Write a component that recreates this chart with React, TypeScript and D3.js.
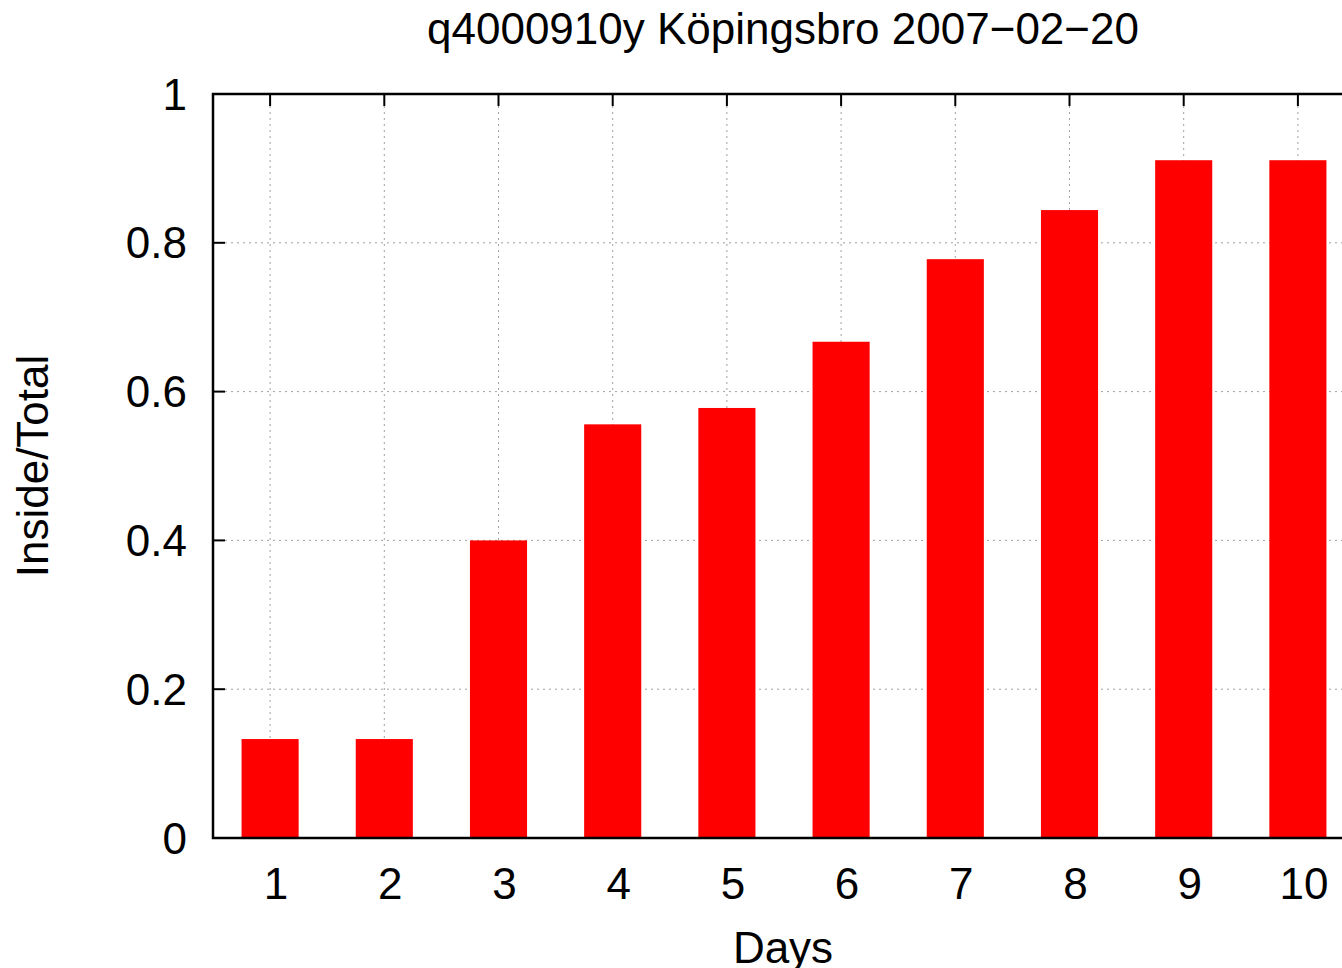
import React from "react";
import * as d3 from "d3";

const days = [1, 2, 3, 4, 5, 6, 7, 8, 9, 10];
const ratios = [0.133, 0.133, 0.4, 0.556, 0.578, 0.667, 0.778, 0.844, 0.911, 0.911];
const yTicks = [0, 0.2, 0.4, 0.6, 0.8, 1];
const title = "q4000910y Köpingsbro 2007\u221202\u221220";
const xLabel = "Days";
const yLabel = "Inside/Total";

const W = 1342;
const H = 968;
const left = 213;
const right = 1355;
const top = 94;
const bottom = 838;
const font = "'Liberation Sans', Arial, sans-serif";
const fs = 44;

export default function App() {
  const x = d3.scaleLinear().domain([0.5, 10.5]).range([left, right]);
  const y = d3.scaleLinear().domain([0, 1]).range([bottom, top]);
  const bw = x(1.5) - x(1);
  const tickLen = 12;

  return (
    <svg width={W} height={H} style={{ display: "block", position: "absolute", left: 0, top: 0 }}>
      <rect x={0} y={0} width={W} height={H} fill="#fff" />
      {/* grid */}
      {yTicks.slice(1, -1).map((t) => (
        <line key={"gy" + t} x1={left} x2={right} y1={y(t)} y2={y(t)} stroke="#a0a0a0" strokeWidth={1} strokeDasharray="2,4" />
      ))}
      {days.map((d) => (
        <line key={"gx" + d} x1={x(d)} x2={x(d)} y1={top} y2={bottom} stroke="#a0a0a0" strokeWidth={1} strokeDasharray="2,4" />
      ))}
      {/* ticks (drawn below bars) */}
      {days.map((d) => (
        <g key={"tx" + d}>
          <line x1={x(d)} x2={x(d)} y1={bottom} y2={bottom - tickLen} stroke="#000" strokeWidth={2} />
          <line x1={x(d)} x2={x(d)} y1={top} y2={top + tickLen} stroke="#000" strokeWidth={2} />
        </g>
      ))}
      {yTicks.map((t) => (
        <g key={"ty" + t}>
          <line x1={left} x2={left + tickLen} y1={y(t)} y2={y(t)} stroke="#000" strokeWidth={2} />
          <line x1={right} x2={right - tickLen} y1={y(t)} y2={y(t)} stroke="#000" strokeWidth={2} />
        </g>
      ))}
      {/* bars */}
      {days.map((d, i) => (
        <rect key={"b" + d} x={x(d) - bw / 2} y={y(ratios[i])} width={bw} height={y(0) - y(ratios[i])} fill="#ff0000" />
      ))}
      {/* tick labels */}
      {days.map((d) => (
        <text key={"lx" + d} x={x(d) + 6} y={883} textAnchor="middle" dominantBaseline="central" fontFamily={font} fontSize={fs} fill="#000">
          {d}
        </text>
      ))}
      {yTicks.map((t) => (
        <text key={"ly" + t} x={187} y={y(t)} textAnchor="end" dominantBaseline="central" fontFamily={font} fontSize={fs} fill="#000">
          {String(t)}
        </text>
      ))}
      {/* frame */}
      <rect x={left} y={top} width={right - left} height={bottom - top} fill="none" stroke="#000" strokeWidth={2.5} />
      {/* labels */}
      <text x={783} y={28} textAnchor="middle" dominantBaseline="central" fontFamily={font} fontSize={fs} fill="#000">
        {title}
      </text>
      <text x={783} y={947} textAnchor="middle" dominantBaseline="central" fontFamily={font} fontSize={fs} fill="#000">
        {xLabel}
      </text>
      <text
        transform={`translate(32,466) rotate(-90)`}
        textAnchor="middle"
        dominantBaseline="central"
        fontFamily={font}
        fontSize={fs}
        fill="#000"
      >
        {yLabel}
      </text>
    </svg>
  );
}
